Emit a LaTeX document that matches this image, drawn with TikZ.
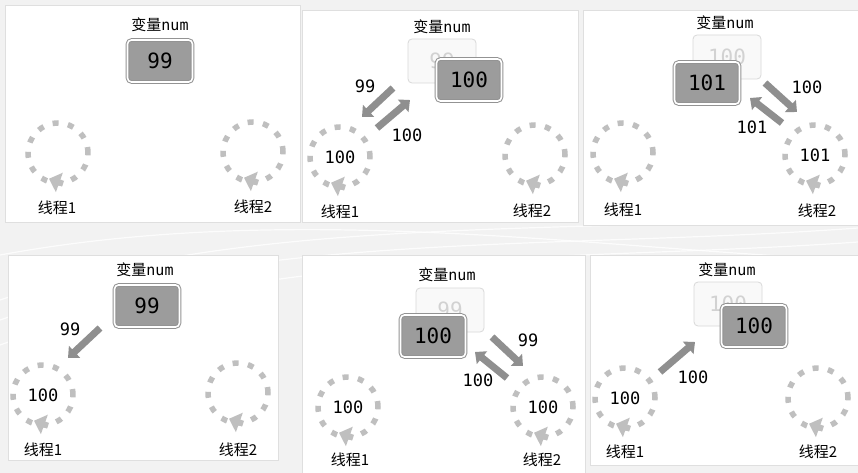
\documentclass[tikz,border=0pt]{standalone}
\usepackage{fontspec}
\newfontfamily\cjk{Noto Sans CJK SC}
\newfontfamily\numfont{DejaVu Sans Mono}
\usetikzlibrary{arrows.meta}
\tikzset{
  panel/.style={fill=white,draw=gray!25,line width=0.6pt},
  swoosh/.style={draw=white,line width=1.2pt,opacity=0.8},
  varlabel/.style={font=\fontsize{15}{18}\selectfont},
  varbox/.style={rounded corners=4pt,fill=gray!78,draw=gray!85,double=white,double distance=1.6pt,line width=1pt,minimum width=65pt,minimum height=42pt,text=black,font=\numfont\fontsize{21}{24}\selectfont},
  oldbox/.style={rounded corners=4pt,fill=gray!5,draw=gray!30,line width=0.8pt,minimum width=68pt,minimum height=44pt,text=gray!35,font=\numfont\fontsize{21}{24}\selectfont},
  ring/.style={circle,minimum size=60pt,draw=gray!50,line width=5.5pt,dash pattern=on 6pt off 9.5pt,text=black,font=\numfont\fontsize{17}{20}\selectfont},
  ringtip/.style={draw=gray!50,line width=6pt,-{Triangle[length=11pt,width=20pt]}},
  flow/.style={draw=gray!88,line width=7pt,-{Triangle[length=9pt,width=16pt]}},
  flowlabel/.style={font=\numfont\fontsize{17}{20}\selectfont},
  threadname/.style={font=\cjk\fontsize{15}{18}\selectfont},
}
\newcommand{\varname}{{\cjk 变量}{\numfont num}}

\begin{document}
\begin{tikzpicture}[x=1pt,y=-1pt]
\useasboundingbox (0,0) rectangle (858,473);
% background
\fill[gray!10] (0,0) rectangle (858,473);
\draw[swoosh] (0,300) .. controls (250,215) and (550,235) .. (858,215);
\draw[swoosh] (0,320) .. controls (260,230) and (560,250) .. (858,228);
\draw[swoosh] (0,345) .. controls (280,245) and (580,262) .. (858,242);
\draw[swoosh] (0,255) .. controls (300,200) and (600,250) .. (858,260);
% panels
\fill[panel] (5,5) rectangle (300,222);
\fill[panel] (302,10) rectangle (578,222);
\fill[panel] (583,10) rectangle (858,225);
\fill[panel] (8,255) rectangle (278,460);
\fill[panel] (302,255) rectangle (585,473);
\fill[panel] (590,255) rectangle (858,465);

% panel 1
\node[varlabel] (p1var) at (160,25) {\varname};
\node[varbox] (p1num) at (160,61) {99};
\node[ring] (p1t1) at (58,153) {};
\node[threadname] (p1n1) at (57,208) {线程1};
\node[ring] (p1t2) at (253,152) {};
\node[threadname] (p1n2) at (253,207) {线程2};

% panel 2
\node[varlabel] (p2var) at (442,27) {\varname};
\node[oldbox] (p2old) at (442,61) {99};
\node[varbox] (p2num) at (469,80) {100};
\coordinate (p2r0) at (393,88);
\coordinate (p2r1) at (362,117);
\draw[flow] (p2r0) -- (p2r1);
\node[flowlabel] (p2rl) at (365,86) {99};
\coordinate (p2w0) at (377,128);
\coordinate (p2w1) at (410,100);
\draw[flow] (p2w0) -- (p2w1);
\node[flowlabel] (p2wl) at (407,135) {100};
\node[ring] (p2t1) at (340,157) {100};
\node[threadname] (p2n1) at (340,212) {线程1};
\node[ring] (p2t2) at (535,155) {};
\node[threadname] (p2n2) at (532,211) {线程2};

% panel 3
\node[varlabel] (p3var) at (725,23) {\varname};
\node[oldbox] (p3old) at (727,57) {100};
\node[varbox] (p3num) at (707,83) {101};
\coordinate (p3r0) at (765,83);
\coordinate (p3r1) at (797,112);
\draw[flow] (p3r0) -- (p3r1);
\node[flowlabel] (p3rl) at (807,87) {100};
\coordinate (p3w0) at (782,123);
\coordinate (p3w1) at (750,98);
\draw[flow] (p3w0) -- (p3w1);
\node[flowlabel] (p3wl) at (752,127) {101};
\node[ring] (p3t1) at (623,153) {};
\node[threadname] (p3n1) at (623,210) {线程1};
\node[ring] (p3t2) at (815,155) {101};
\node[threadname] (p3n2) at (817,211) {线程2};

% panel 4
\node[varlabel] (p4var) at (145,270) {\varname};
\node[varbox] (p4num) at (147,306) {99};
\coordinate (p4r0) at (100,328);
\coordinate (p4r1) at (68,358);
\draw[flow] (p4r0) -- (p4r1);
\node[flowlabel] (p4rl) at (70,329) {99};
\node[ring] (p4t1) at (43,395) {100};
\node[threadname] (p4n1) at (43,450) {线程1};
\node[ring] (p4t2) at (238,393) {};
\node[threadname] (p4n2) at (238,450) {线程2};

% panel 5
\node[varlabel] (p5var) at (447,275) {\varname};
\node[oldbox] (p5old) at (450,310) {99};
\node[varbox] (p5num) at (433,336) {100};
\coordinate (p5r0) at (492,337);
\coordinate (p5r1) at (523,366);
\draw[flow] (p5r0) -- (p5r1);
\node[flowlabel] (p5rl) at (528,340) {99};
\coordinate (p5w0) at (507,378);
\coordinate (p5w1) at (475,352);
\draw[flow] (p5w0) -- (p5w1);
\node[flowlabel] (p5wl) at (478,380) {100};
\node[ring] (p5t1) at (348,407) {100};
\node[threadname] (p5n1) at (350,460) {线程1};
\node[ring] (p5t2) at (543,407) {100};
\node[threadname] (p5n2) at (542,460) {线程2};

% panel 6
\node[varlabel] (p6var) at (727,270) {\varname};
\node[oldbox] (p6old) at (728,304) {100};
\node[varbox] (p6num) at (754,326) {100};
\coordinate (p6w0) at (660,372);
\coordinate (p6w1) at (695,342);
\draw[flow] (p6w0) -- (p6w1);
\node[flowlabel] (p6wl) at (693,377) {100};
\node[ring] (p6t1) at (625,398) {100};
\node[threadname] (p6n1) at (625,452) {线程1};
\node[ring] (p6t2) at (818,398) {};
\node[threadname] (p6n2) at (818,452) {线程2};

% arrow heads on the thread rings
\foreach \t in {p1t1,p1t2,p2t1,p2t2,p3t1,p3t2,p4t1,p4t2,p5t1,p5t2,p6t1,p6t2}
  \draw[ringtip] ([xshift=5pt,yshift=2pt]\t.south) -- ++(-14pt,5pt);
\end{tikzpicture}
\end{document}
